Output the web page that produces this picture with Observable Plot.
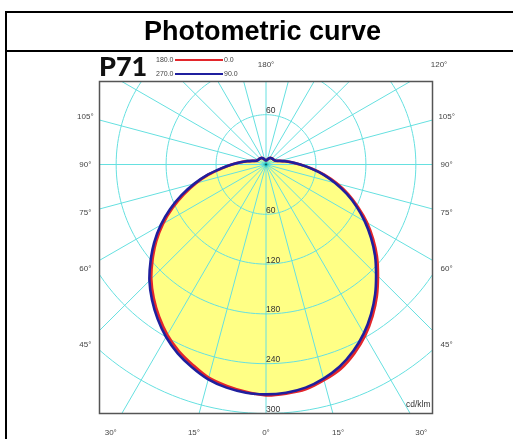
<!DOCTYPE html>
<html>
<head>
<meta charset="utf-8">
<script src="https://cdn.jsdelivr.net/npm/d3@7"></script>
<script src="https://cdn.jsdelivr.net/npm/@observablehq/plot@0.6"></script>
<style>
  html, body { margin: 0; padding: 0; background: #fff; }
  body { width: 513px; height: 439px; overflow: hidden; position: relative; font-family: "Liberation Sans", Arial, sans-serif; }
  #table { position: absolute; left: 5px; top: 11px; width: 520px; height: 440px; border-left: 2px solid #000; border-top: 2px solid #000; }
  #title { position: absolute; left: 7px; top: 13px; width: 511px; height: 37px; border-bottom: 2px solid #000;
           text-align: center; font-weight: bold; font-size: 27px; line-height: 37px; color: #000; }
  #chart { position: absolute; left: 0; top: 52px; }
  #p71 { position: absolute; left: 99px; top: 51px; font-family: Lato, "Open Sans", sans-serif; font-weight: 900; font-size: 27px; line-height: 30px; color: #111; }
  .lg { position: absolute; font-size: 7px; color: #444; line-height: 8px; }
  .ln { position: absolute; height: 2px; }
</style>
</head>
<body>
<div id="table"></div>
<div id="title">Photometric curve</div>
<div id="chart"></div>
<div id="p71">P71</div>
<div id="legend"></div>
<script>
// ---- data (γ in degrees from nadir, intensities in cd/klm) ----
const gammas = [0,5,10,15,20,25,30,35,40,45,50,55,60,65,70,75,80,85,90,95,100,105,110,120,130,140,150,160,170,180];
const c90  = [277,276,273,267,259,248,235,220,204,187,171,154,137,120,103,86,70,54,41,31,23,17,13,11,10.5,10,9,7,5.5,5];
const c0   = [278,277,275,269,262,251,238,223,207,190,174,157,140,122,105,88,71,55,41,31,23,17,13,11,10.5,10,9,7,5.5,5];
const c270 = [277,276,273,268,260,251,240,227,213,198,181,164,146,127,108,89,71,54,41,31,23,17,13,11,10.5,10,9,7,5.5,5];
const c180 = [276,275,271,266,257,248,237,224,210,195,178,161,143,124,105,87,70,53,41,31,23,17,13,11,10.5,10,9,7,5.5,5];

const gridRadii = [60,120,180,240,300,360,420];
const rayAngles = [0,15,30,45,60,75,90,105,120,135,150,165,180,195,210,225,240,255,270,285,300,315,330,345];
const lowerRadialLabels = [60,120,180,240,300];
const upperRadialLabels = [60];
const rightAngleLabels = [0,15,30,45,60,75,90,105,120,180];
const leftAngleLabels = [15,30,45,60,75,90,105];
const legendRows = [["180.0","0.0","#e3262b"],["270.0","90.0","#1f1f9e"]];
const unitLabel = "cd/klm";

// ---- helpers ----
const rad = d => d * Math.PI / 180;
const polar = (g, r, side) => ({x: side * r * Math.sin(rad(g)), y: -r * Math.cos(rad(g))});

function closedCurve(right, left) {
  const pts = gammas.map((g, i) => polar(g, right[i], 1));
  for (let i = gammas.length - 2; i >= 1; i--) pts.push(polar(gammas[i], left[i], -1));
  return pts;
}
const redPts = closedCurve(c0, c180);
const bluePts = closedCurve(c90, c270);

const circlePts = gridRadii.flatMap(r => d3.range(0, 361, 2).map(a => ({r, ...polar(a, r, 1)})));
const rays = rayAngles.map(a => ({a, ...polar(a, 600, 1)}));

// label positions: where each ray meets a box slightly outside the frame
const XB = 217, YB_TOP = 120, YB_BOT = -323;
function edgePoint(g, side) {
  const dx = side * Math.sin(rad(g)), dy = -Math.cos(rad(g));
  let t = Infinity;
  if (Math.abs(dx) > 1e-9) t = Math.min(t, XB / Math.abs(dx));
  if (dy > 1e-9) t = Math.min(t, YB_TOP / dy);
  if (dy < -1e-9) t = Math.min(t, YB_BOT / dy);
  return {x: dx * t, y: dy * t};
}
const angleLabels = [
  ...rightAngleLabels.map(g => ({...edgePoint(g, 1), text: g + "°"})),
  ...leftAngleLabels.map(g => ({...edgePoint(g, -1), text: g + "°"}))
];
const radialLabels = [
  ...lowerRadialLabels.map(r => { const p = polar(0, r, 1); return {x: p.x, y: p.y + 5, text: String(r)}; }),
  ...upperRadialLabels.map(r => { const p = polar(180, r, 1); return {x: p.x, y: p.y + 5, text: String(r)}; })
];

const gridColor = "#66e0e0";

const chart = Plot.plot({
  width: 513, height: 387,
  marginLeft: 99, marginRight: 81, marginTop: 29, marginBottom: 26,
  x: {domain: [-200, 200], axis: null},
  y: {domain: [-300, 100], axis: null},
  style: {background: "transparent", fontFamily: "Liberation Sans, Arial, sans-serif"},
  marks: [
    Plot.line(bluePts, {x: "x", y: "y", fill: "#ffff85", stroke: "none", curve: "catmull-rom-closed"}),
    Plot.line(redPts, {x: "x", y: "y", fill: "#ffff85", stroke: "none", curve: "catmull-rom-closed"}),
    Plot.line(circlePts, {x: "x", y: "y", z: "r", stroke: gridColor, strokeWidth: 1, clip: true, mixBlendMode: "multiply"}),
    Plot.link(rays, {x1: () => 0, y1: () => 0, x2: "x", y2: "y", stroke: gridColor, strokeWidth: 1, clip: true, mixBlendMode: "multiply"}),
    Plot.line(redPts, {x: "x", y: "y", stroke: "#e3262b", strokeWidth: 2.8, curve: "catmull-rom-closed"}),
    Plot.line(bluePts, {x: "x", y: "y", stroke: "#1f1f9e", strokeWidth: 2.6, curve: "catmull-rom-closed"}),
    Plot.frame({stroke: "#555", strokeWidth: 1.5}),
    Plot.text(radialLabels, {x: "x", y: "y", text: "text", textAnchor: "start", fontSize: 8.5, fill: "#333"}),
    Plot.text(angleLabels, {x: "x", y: "y", text: "text", fontSize: 8, fill: "#444"}),
    Plot.text([unitLabel], {text: d => d, frameAnchor: "bottom-right", textAnchor: "end", dx: -2, dy: -7, fontSize: 8.5, fill: "#333"})
  ]
});
document.getElementById("chart").appendChild(chart);

// legend
const lg = document.getElementById("legend");
legendRows.forEach(([a, b, c], i) => {
  const top = 56 + i * 14;
  lg.insertAdjacentHTML("beforeend",
    `<div class="lg" style="left:156px;top:${top}px">${a}</div>` +
    `<div class="ln" style="left:175px;width:48px;top:${top + 3}px;background:${c}"></div>` +
    `<div class="lg" style="left:224px;top:${top}px">${b}</div>`);
});
</script>
</body>
</html>
